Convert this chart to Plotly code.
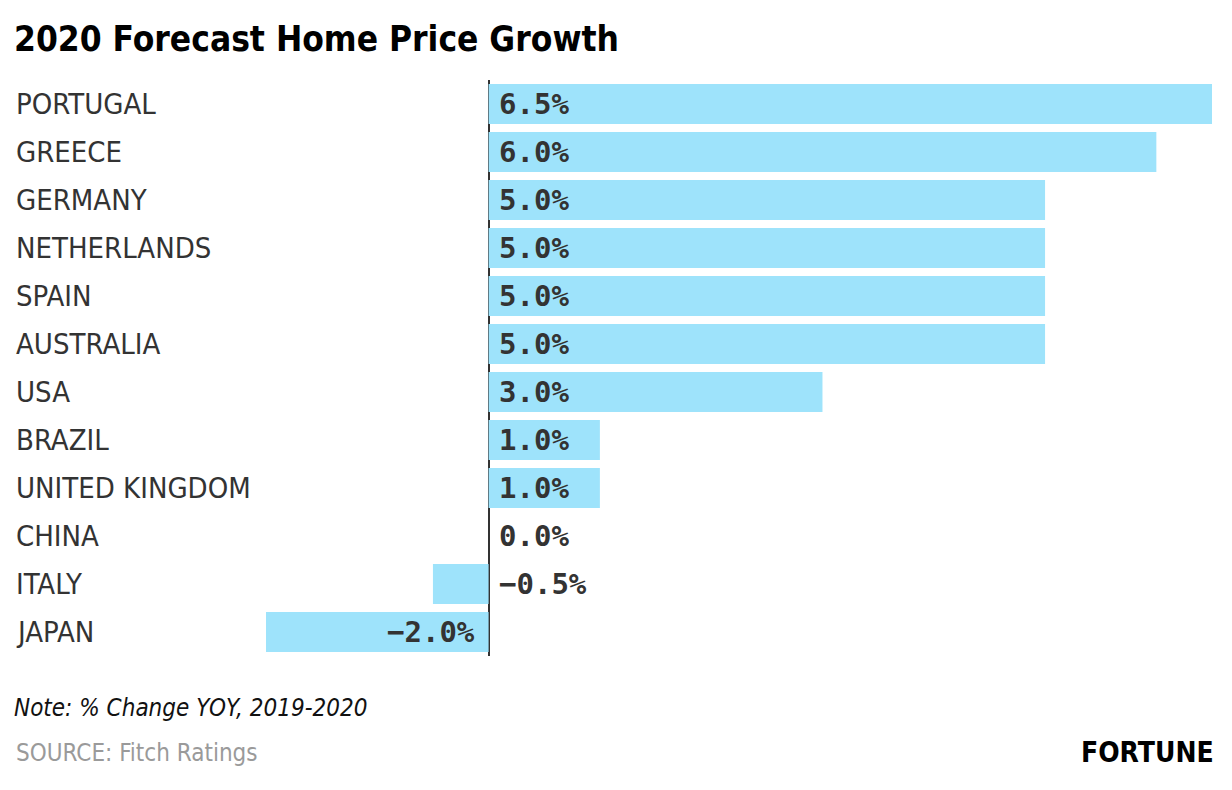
import plotly.graph_objects as go

countries = ["PORTUGAL", "GREECE", "GERMANY", "NETHERLANDS", "SPAIN", "AUSTRALIA",
             "USA", "BRAZIL", "UNITED KINGDOM", "CHINA", "ITALY", "JAPAN"]
growth = [6.5, 6.0, 5.0, 5.0, 5.0, 5.0, 3.0, 1.0, 1.0, 0.0, -0.5, -2.0]

title_text = "2020 Forecast Home Price Growth"
note_text = "Note: % Change YOY, 2019-2020"
source_text = "SOURCE: Fitch Ratings"
brand_text = "FORTUNE"

BAR = "#9ee3fb"
TXT = "#333333"
COND = "DejaVu Sans Condensed, Liberation Sans Narrow, sans-serif"
MONO = "DejaVu Sans Mono, Liberation Mono, monospace"

fig = go.Figure()
fig.add_trace(go.Bar(
    x=growth, y=countries, orientation="h",
    marker=dict(color=BAR, line=dict(width=0)),
    hoverinfo="skip",
))

def fmt(v):
    s = f"{v:.1f}%"
    return s.replace("-", "\u2212")

annotations = []
L, R, T, B = 266, 20, 80, 134
W = 1232 - L - R
H = 790 - T - B
for c, v in zip(countries, growth):
    annotations.append(dict(
        x=(14 - L) / W, xref="paper", y=c, yref="y", text=c, showarrow=False,
        xanchor="left", yanchor="middle",
        font=dict(family=COND, size=29, color=TXT),
    ))
    if v < -1:
        annotations.append(dict(
            x=0, xref="x", y=c, yref="y", text=f"<b>{fmt(v)}</b>", showarrow=False,
            xanchor="right", yanchor="middle", xshift=-12,
            font=dict(family=MONO, size=29, color=TXT),
        ))
    else:
        annotations.append(dict(
            x=0, xref="x", y=c, yref="y", text=f"<b>{fmt(v)}</b>", showarrow=False,
            xanchor="left", yanchor="middle", xshift=8,
            font=dict(family=MONO, size=29, color=TXT),
        ))

annotations += [
    dict(x=(12 - L) / W, xref="paper", y=1 + (T - 39) / H, yref="paper",
         text=f"<b>{title_text}</b>", showarrow=False, xanchor="left", yanchor="middle",
         font=dict(family=COND, size=35, color="#000000")),
    dict(x=(12 - L) / W, xref="paper", y=-(708 - (790 - B)) / H, yref="paper",
         text=f"<i>{note_text}</i>", showarrow=False, xanchor="left", yanchor="middle",
         font=dict(family=COND, size=24, color="#111111")),
    dict(x=(14 - L) / W, xref="paper", y=-(753 - (790 - B)) / H, yref="paper",
         text=source_text, showarrow=False, xanchor="left", yanchor="middle",
         font=dict(family=COND, size=24, color="#9a9a9a")),
    dict(x=1, xref="paper", y=-(752 - (790 - B)) / H, yref="paper", xshift=4,
         text=f"<b>{brand_text}</b>", showarrow=False, xanchor="right", yanchor="middle",
         font=dict(family=COND, size=28, color="#000000")),
]

fig.update_layout(
    width=1232, height=790,
    margin=dict(l=L, r=R, t=T, b=B, pad=0),
    paper_bgcolor="white", plot_bgcolor="white",
    showlegend=False, bargap=0.167,
    xaxis=dict(range=[-2, 6.5], showgrid=False, showticklabels=False, ticks="",
               zeroline=True, zerolinecolor="#333333", zerolinewidth=2, fixedrange=True),
    yaxis=dict(autorange="reversed", showticklabels=False, showgrid=False, ticks="",
               zeroline=False, fixedrange=True),
    annotations=annotations,
)

fig.write_html("out.html", config={"displayModeBar": False},
               post_script="document.body.style.margin='0';document.body.style.overflow='hidden';")
